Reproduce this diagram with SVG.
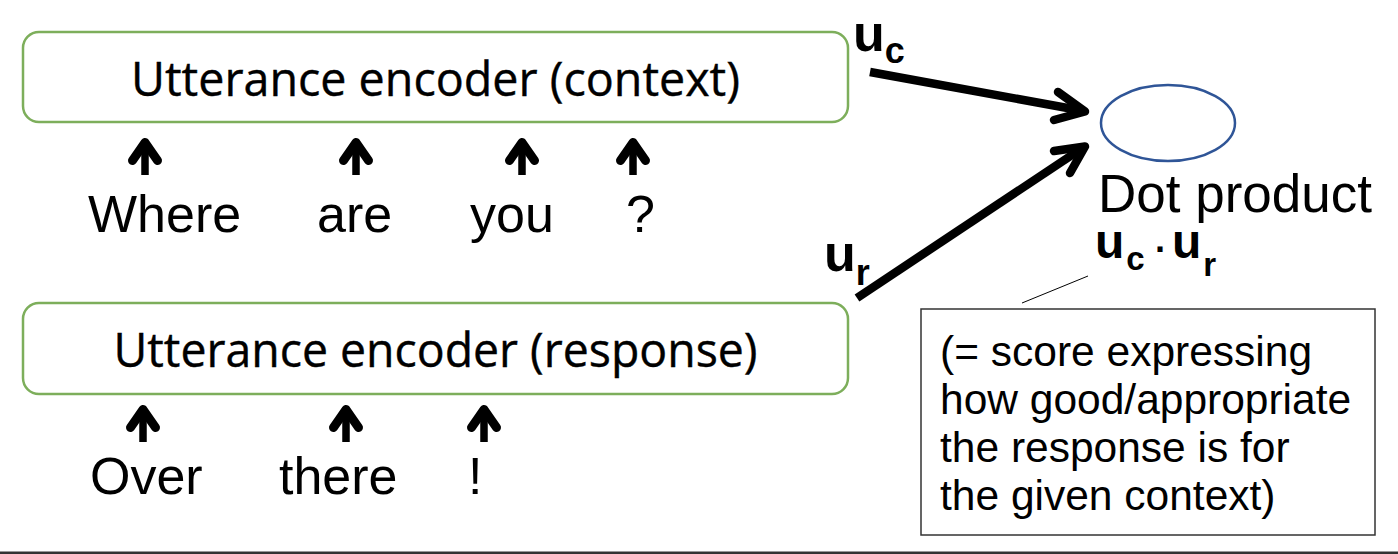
<svg xmlns="http://www.w3.org/2000/svg" width="1398" height="554" viewBox="0 0 1398 554">
<style>
.enc{fill:#fff;stroke:#7dae5b;stroke-width:2.5}
.enct{font-family:"Open Sans","Noto Sans",sans-serif;font-size:48px;fill:#000;text-anchor:middle;stroke:#000;stroke-width:0.4}
.w{font-family:"Liberation Sans",Arial,sans-serif;font-size:52px;fill:#000}
.b{font-family:"Liberation Sans",Arial,sans-serif;font-weight:bold;fill:#000}
.note{font-family:"Liberation Sans",Arial,sans-serif;font-size:42.5px;fill:#000}
.shaft{stroke:#000;fill:none;stroke-linecap:butt}
.head{stroke:#000;fill:none;stroke-linecap:round;stroke-linejoin:round}
</style>
<defs>
<g id="up">
<line class="shaft" x1="0" y1="6" x2="0" y2="37" stroke-width="7.5"/>
<polyline class="head" points="-12.5,22.5 0,4.5 12.5,22.5" stroke-width="9"/>
</g>
</defs>
<rect x="0" y="0" width="1398" height="554" fill="#fff"/>
<g id="enc-context">
<rect class="enc" x="23" y="32" width="825" height="90" rx="16"/>
<text class="enct" x="435.5" y="96" textLength="609" lengthAdjust="spacingAndGlyphs">Utterance encoder (context)</text>
</g>
<g id="enc-response">
<rect class="enc" x="23" y="303" width="825" height="91" rx="16"/>
<text class="enct" x="435.5" y="367" textLength="644" lengthAdjust="spacingAndGlyphs">Utterance encoder (response)</text>
</g>
<g id="ctx-words">
<text class="w" x="88" y="232">Where</text>
<text class="w" x="317" y="232">are</text>
<text class="w" x="470" y="232">you</text>
<text class="w" x="626" y="232">?</text>
</g>
<g id="resp-words">
<text class="w" x="90" y="494">Over</text>
<text class="w" x="279" y="494">there</text>
<text class="w" x="468" y="494">!</text>
</g>
<g id="dot-product">
<ellipse cx="1168" cy="123" rx="67" ry="38" fill="#fff" stroke="#2f5597" stroke-width="2.5"/>
<text class="w" x="1098" y="212" style="font-size:53px">Dot product</text>
</g>
<g id="formula">
<text class="b" x="1095" y="258" style="font-size:48px">u<tspan dx="2" dy="12" style="font-size:33px">c</tspan><tspan x="1155" y="262" style="font-size:36px">·</tspan><tspan x="1172" y="258" style="font-size:48px">u</tspan><tspan dx="2" dy="18" style="font-size:33px">r</tspan></text>
</g>
<g id="labels">
<text class="b" x="853" y="51" style="font-size:52px">u<tspan dy="12" style="font-size:36px">c</tspan></text>
<text class="b" x="824" y="271" style="font-size:52px">u<tspan dy="14" style="font-size:36px">r</tspan></text>
</g>
<g id="note">
<rect x="921" y="309" width="454" height="226" fill="#fff" stroke="#333" stroke-width="1.5"/>
<text class="note" x="940" y="366">(= score expressing</text>
<text class="note" x="940" y="414">how good/appropriate</text>
<text class="note" x="940" y="462">the response is for</text>
<text class="note" x="940" y="510">the given context)</text>
</g>
<g id="connectors">
<use href="#up" x="145" y="138"/>
<use href="#up" x="356" y="138"/>
<use href="#up" x="522" y="138"/>
<use href="#up" x="633" y="138"/>
<use href="#up" x="143" y="405"/>
<use href="#up" x="346" y="405"/>
<use href="#up" x="484" y="405"/>
<line class="shaft" x1="870" y1="72" x2="1084" y2="111" stroke-width="8.5"/>
<polyline class="head" points="1058,92 1085,111.5 1054,120" stroke-width="8.5"/>
<line class="shaft" x1="857" y1="298" x2="1084" y2="147" stroke-width="8.5"/>
<polyline class="head" points="1054,151 1085,146.5 1070,173" stroke-width="8.5"/>
<line x1="1022" y1="303" x2="1088" y2="276" stroke="#000" stroke-width="1"/>
</g>
<rect x="0" y="551.5" width="1398" height="2.5" fill="#333"/>
</svg>
